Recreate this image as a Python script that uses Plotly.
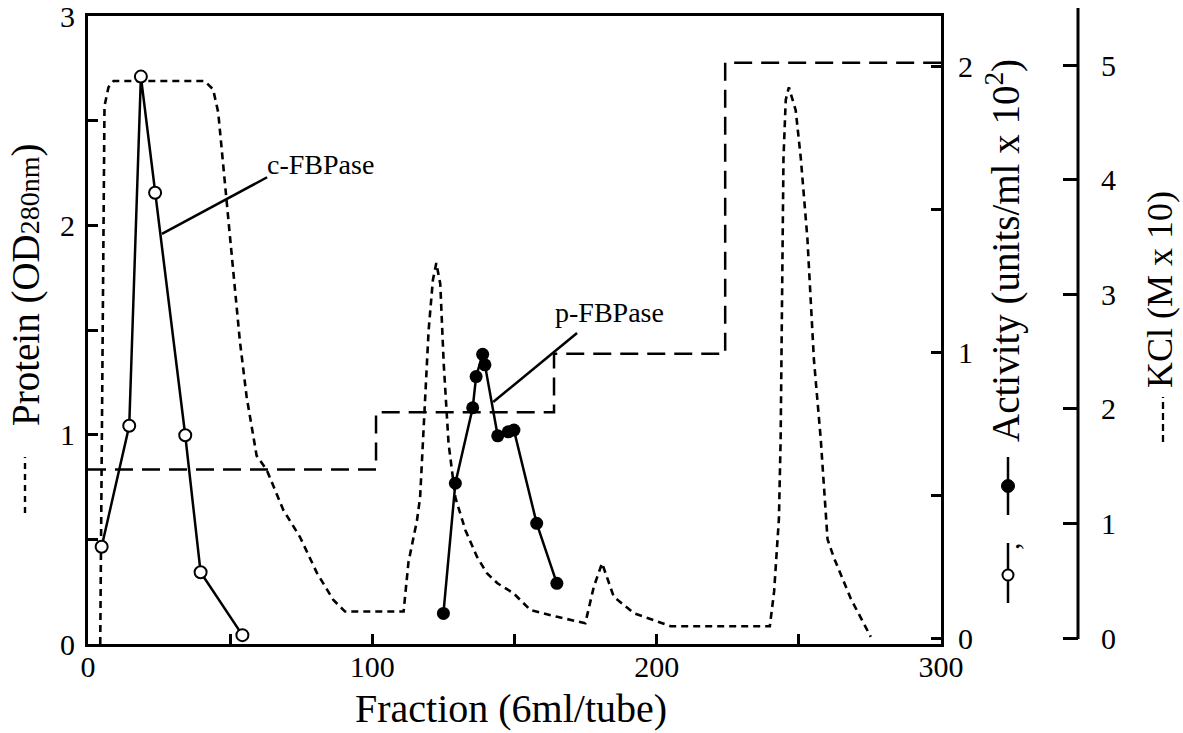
import plotly.graph_objects as go

# ---------------- data ----------------
protein_x = [4.3, 5.8, 7.2, 9.0, 41.0, 44.0, 45.8, 48.8, 53.4, 55.8, 59.3, 62.9, 68.7,
             74.6, 80.5, 86.3, 90.4, 111.0, 112.7, 115.7, 116.8, 118.0, 119.8, 121.3,
             122.5, 123.9, 125.1, 126.8, 129.2, 132.7, 136.8, 140.3, 144.0, 149.7,
             155.6, 165.0, 174.9, 177.9, 180.8, 184.9, 192.0, 204.9, 239.8, 241.3,
             243.0, 243.6, 244.2, 244.6, 245.4, 246.5, 248.9, 250.7, 253.0, 255.3,
             257.7, 260.1, 262.4, 268.3, 275.3]
protein_od = [0.0, 2.57, 2.66, 2.69, 2.69, 2.65, 2.54, 2.12, 1.45, 1.18, 0.90, 0.83, 0.64,
              0.51, 0.34, 0.21, 0.155, 0.155, 0.39, 0.59, 0.70, 1.02, 1.50, 1.74,
              1.82, 1.72, 1.34, 0.96, 0.70, 0.545, 0.417, 0.338, 0.29, 0.242,
              0.162, 0.13, 0.099, 0.274, 0.386, 0.226, 0.147, 0.085, 0.085, 0.25,
              0.60, 0.98, 1.745, 2.32, 2.60, 2.66, 2.55, 2.32, 1.94, 1.36,
              0.98, 0.50, 0.41, 0.216, 0.034]

kcl_x = [0, 101.3, 163.9, 224.1, 300]
kcl_m10 = [1.47, 1.97, 2.48, 5.02, 5.02]

c_fbpase_x = [4.8, 14.5, 18.6, 23.6, 34.2, 39.6, 54.3]
c_fbpase_act = [0.319, 0.742, 1.963, 1.557, 0.709, 0.230, 0.01]

p_fbpase_x = [125.0, 129.2, 135.3, 136.5, 138.8, 139.6, 144.1, 147.8, 149.8, 157.8, 164.9]
p_fbpase_act = [0.086, 0.541, 0.805, 0.914, 0.992, 0.955, 0.707, 0.721, 0.727, 0.401, 0.191]

x_ticks = [0, 50, 100, 150, 200, 250, 300]
x_ticktext = ["0", "", "100", "", "200", "", "300"]
y_ticks = [0, 0.5, 1, 1.5, 2, 2.5, 3]
y_ticktext = ["0", "", "1", "", "2", "", "3"]
act_ticks = [0, 0.5, 1, 1.5, 2]
act_ticktext = ["0", "", "1", "", "2"]
kcl_ticks = [0, 1, 2, 3, 4, 5]
kcl_ticktext = ["0", "1", "2", "3", "4", "5"]

# ---------------- layout geometry ----------------
W, H = 1183, 733
L, T, B = 88, 16, 89
KCL_AXIS_PX = 1078
R = W - KCL_AXIS_PX
PLOT_RIGHT_PX = 941
PW = W - L - R
PH = H - T - B


def xp(px):
    return (px - L) / PW


def yp(py):
    return (H - B - py) / PH


FONT = "Liberation Serif, Times New Roman, serif"
BLACK = "#000000"

fig = go.Figure()

fig.add_trace(go.Scatter(
    x=protein_x, y=protein_od, yaxis="y", mode="lines",
    line=dict(color=BLACK, width=2.6, dash="7px,5px"), showlegend=False))

fig.add_trace(go.Scatter(
    x=kcl_x, y=kcl_m10, yaxis="y2", mode="lines", line_shape="hv",
    line=dict(color=BLACK, width=2.5, dash="18px,9px"), showlegend=False))

fig.add_trace(go.Scatter(
    x=c_fbpase_x, y=c_fbpase_act, yaxis="y3", mode="lines+markers",
    line=dict(color=BLACK, width=2.5),
    marker=dict(symbol="circle", size=12, color="white", line=dict(color=BLACK, width=2)),
    showlegend=False))

fig.add_trace(go.Scatter(
    x=p_fbpase_x, y=p_fbpase_act, yaxis="y3", mode="lines+markers",
    line=dict(color=BLACK, width=2.5),
    marker=dict(symbol="circle", size=13, color=BLACK),
    showlegend=False))

tickfont = dict(family=FONT, size=30, color=BLACK)
dom_right = (PLOT_RIGHT_PX - L) / PW

# activity axis: 0 at 638 px, 2 at 66 px
act_per = (638 - 66) / 2.0
act_range = [-(644 - 638) / act_per, (638 - 16) / act_per]
# KCl axis: 0 at 638 px, 5 at 65 px
kcl_per = (638 - 65) / 5.0
kcl_range = [-(644 - 638) / kcl_per, (638 - 16) / kcl_per]

common = dict(showgrid=False, zeroline=False, tickfont=tickfont, tickcolor=BLACK,
              tickwidth=2.5, ticks="inside", automargin=False, ticklabeloverflow="allow")

fig.update_layout(
    width=W, height=H,
    margin=dict(l=L, r=R, t=T, b=B, pad=0, autoexpand=False),
    paper_bgcolor="white", plot_bgcolor="white",
    font=dict(family=FONT, color=BLACK),
    xaxis=dict(domain=[0, dom_right], range=[0, 300], tickvals=x_ticks, ticktext=x_ticktext,
               ticklen=10, showline=True, linewidth=3, linecolor=BLACK, mirror=True,
               ticklabelstandoff=-6, **common),
    yaxis=dict(range=[0, 3.0005], tickvals=y_ticks, ticktext=y_ticktext,
               ticklen=10, showline=True, linewidth=3, linecolor=BLACK,
               ticklabelstandoff=4, **common),
    yaxis2=dict(overlaying="y", side="right", anchor="free", position=1.0,
                range=kcl_range, tickvals=kcl_ticks, ticktext=kcl_ticktext,
                ticklen=15, showline=False, ticklabelstandoff=22, **common),
    yaxis3=dict(overlaying="y", side="right", anchor="x",
                range=act_range, tickvals=act_ticks, ticktext=act_ticktext,
                ticklen=10, showline=True, linewidth=3, linecolor=BLACK,
                ticklabelstandoff=8, **common),
)

shapes = []
# KCl axis line (extends a little above the frame)
shapes.append(dict(type="line", xref="paper", yref="paper",
                   x0=1.0, x1=1.0, y0=yp(639), y1=yp(8),
                   line=dict(color=BLACK, width=3)))
# dotted sample in protein title
shapes.append(dict(type="line", xref="paper", yref="paper",
                   x0=xp(25), x1=xp(25), y0=yp(513), y1=yp(457),
                   line=dict(color=BLACK, width=2.4, dash="6px,5px")))
# dashed sample in KCl title
shapes.append(dict(type="line", xref="paper", yref="paper",
                   x0=xp(1163), x1=xp(1163), y0=yp(442), y1=yp(397),
                   line=dict(color=BLACK, width=2.3, dash="7px,4px")))
# activity symbols: filled-circle line, open-circle line
shapes.append(dict(type="line", xref="paper", yref="paper",
                   x0=xp(1008), x1=xp(1008), y0=yp(515), y1=yp(457),
                   line=dict(color=BLACK, width=2.5)))
shapes.append(dict(type="circle", xref="paper", yref="paper",
                   xsizemode="pixel", ysizemode="pixel",
                   xanchor=xp(1008), yanchor=yp(486), x0=-6.5, x1=6.5, y0=-6.5, y1=6.5,
                   fillcolor=BLACK, line=dict(color=BLACK, width=1)))
shapes.append(dict(type="line", xref="paper", yref="paper",
                   x0=xp(1008), x1=xp(1008), y0=yp(603), y1=yp(543),
                   line=dict(color=BLACK, width=2.5)))
shapes.append(dict(type="circle", xref="paper", yref="paper",
                   xsizemode="pixel", ysizemode="pixel",
                   xanchor=xp(1008), yanchor=yp(575), x0=-5.5, x1=5.5, y0=-5.5, y1=5.5,
                   fillcolor="white", line=dict(color=BLACK, width=2)))
# leader lines for labels
shapes.append(dict(type="line", xref="x", yref="y", x0=63.0, y0=2.23, x1=26.0, y1=1.96,
                   line=dict(color=BLACK, width=2.5)))
shapes.append(dict(type="line", xref="x", yref="y", x0=172.0, y0=1.486, x1=142.5, y1=1.156,
                   line=dict(color=BLACK, width=2.5)))
fig.update_layout(shapes=shapes)

ann = []
ann.append(dict(text="Fraction (6ml/tube)", xref="paper", yref="paper",
                x=xp(511), y=yp(708), showarrow=False,
                font=dict(family=FONT, size=40, color=BLACK), xanchor="center", yanchor="middle"))
ann.append(dict(text="Protein (OD<span style='font-size:28px'>280nm</span>)",
                xref="paper", yref="paper", x=xp(26), y=yp(285), showarrow=False, textangle=-90,
                font=dict(family=FONT, size=39, color=BLACK), xanchor="center", yanchor="middle"))
ann.append(dict(text="Activity (units/ml x 10<sup>2</sup>)",
                xref="paper", yref="paper", x=xp(1004), y=yp(251), showarrow=False, textangle=-90,
                font=dict(family=FONT, size=39, color=BLACK), xanchor="center", yanchor="middle"))
ann.append(dict(text=",", xref="paper", yref="paper", x=xp(1008), y=yp(546), showarrow=False,
                textangle=-90, font=dict(family=FONT, size=30, color=BLACK),
                xanchor="center", yanchor="middle"))
ann.append(dict(text="KCl (M x 10)", xref="paper", yref="paper", x=xp(1160), y=yp(290),
                showarrow=False, textangle=-90, font=dict(family=FONT, size=36, color=BLACK),
                xanchor="center", yanchor="middle"))
ann.append(dict(text="c-FBPase", xref="x", yref="y", x=81.6, y=2.29, showarrow=False,
                font=dict(family=FONT, size=28, color=BLACK), xanchor="center", yanchor="middle"))
ann.append(dict(text="p-FBPase", xref="x", yref="y", x=183.3, y=1.586, showarrow=False,
                font=dict(family=FONT, size=28, color=BLACK), xanchor="center", yanchor="middle"))
fig.update_layout(annotations=ann)

fig.write_html("out.html")
